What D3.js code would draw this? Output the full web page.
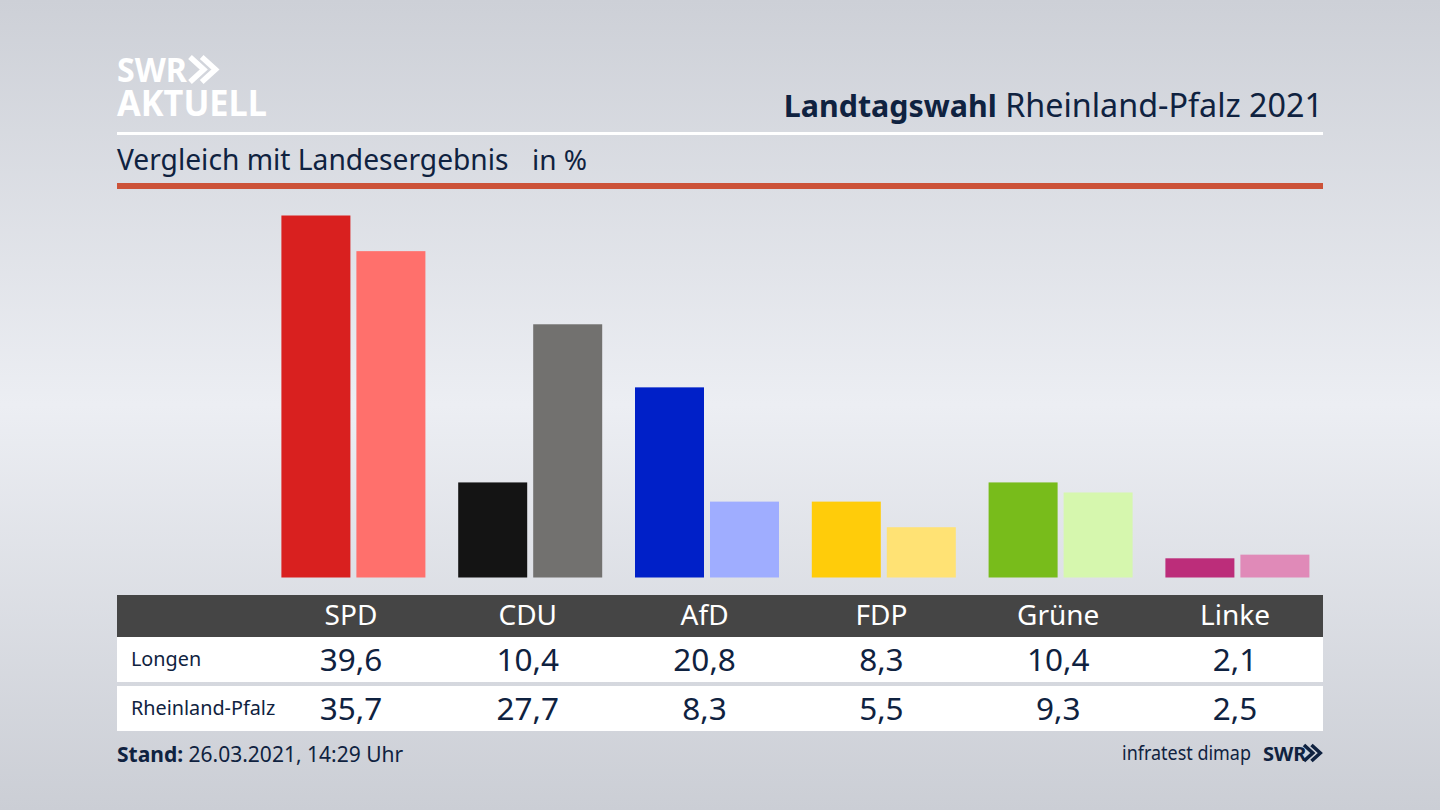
<!DOCTYPE html>
<html>
<head>
<meta charset="utf-8">
<script src="https://cdn.jsdelivr.net/npm/d3@7"></script>
<style>
  html, body { margin: 0; padding: 0; }
  svg { display: block; }
  text { font-family: "Noto Sans", sans-serif; fill: #0f2240; }
</style>
</head>
<body>
<script>
const parties = ['SPD', 'CDU', 'AfD', 'FDP', 'Grüne', 'Linke'];
const rowNames = ['Longen', 'Rheinland-Pfalz'];
const longen = [39.6, 10.4, 20.8, 8.3, 10.4, 2.1];
const rlp = [35.7, 27.7, 8.3, 5.5, 9.3, 2.5];
const longenColors = ['#d9201f', '#141414', '#0020c8', '#ffcc0a', '#78bc1b', '#bc2d7a'];
const rlpColors = ['#ff706c', '#72716f', '#9fadff', '#ffe274', '#d6f7ae', '#e08ab8'];

const width = 1440;
const height = 810;
const left = 117;
const right = 1323;
const baseline = 577.5;
const ink = '#0f2240';

const svg = d3.select('body').append('svg')
  .attr('width', width)
  .attr('height', height);

// background
const grad = svg.append('defs').append('linearGradient')
  .attr('id', 'bg')
  .attr('x1', 0).attr('y1', 0).attr('x2', 0).attr('y2', 1);
grad.append('stop').attr('offset', '0%').attr('stop-color', '#cdd0d7');
grad.append('stop').attr('offset', '50%').attr('stop-color', '#eceef3');
grad.append('stop').attr('offset', '100%').attr('stop-color', '#cbced5');
svg.append('rect').attr('width', width).attr('height', height).attr('fill', 'url(#bg)');

const xScale = d3.scalePoint().domain(parties).range([351, 1235]);
const inner = d3.scaleBand().domain([0, 1]).range([-69.6, 74.4]).paddingInner(0.08);
const yScale = d3.scaleLinear().domain([0, 39.6]).range([baseline, 215.5]);

// header, logo as one text so both lines stay together
const logo = svg.append('text').attr('font-weight', 700).style('fill', '#fff');
logo.append('tspan').text('SWR').attr('x', 117).attr('y', 82)
  .attr('font-size', 34)
  .attr('textLength', 70).attr('lengthAdjust', 'spacingAndGlyphs');
logo.append('tspan').text('AKTUELL').attr('x', 117).attr('y', 116)
  .attr('font-size', 36)
  .attr('textLength', 150).attr('lengthAdjust', 'spacingAndGlyphs');

function chevrons(x, y, h, color) {
  const w = h * 0.55;
  [0, w * 0.85].forEach((dx) => {
    svg.append('path')
      .attr('d', `M${x + dx},${y} L${x + dx + w},${y + h / 2} L${x + dx},${y + h}`)
      .attr('fill', 'none')
      .attr('stroke', color)
      .attr('stroke-width', h * 0.22);
  });
}
chevrons(190, 57, 25, '#fff');

const title = svg.append('text').attr('x', right).attr('y', 117)
  .attr('text-anchor', 'end');
title.append('tspan').text('Landtagswahl').attr('font-weight', 700).attr('font-size', 30.4);
title.append('tspan').text(' Rheinland-Pfalz 2021').attr('font-size', 32.3);

svg.append('rect').attr('x', left).attr('y', 132).attr('width', right - left).attr('height', 3).attr('fill', '#fff');
svg.append('text').text('Vergleich mit Landesergebnis').attr('x', left).attr('y', 170).attr('font-size', 28.2);
svg.append('text').text('in %').attr('x', 532).attr('y', 170).attr('font-size', 28);
svg.append('rect').attr('x', left).attr('y', 183).attr('width', right - left).attr('height', 6).attr('fill', '#cc5238');

// bars
[longen, rlp].forEach((values, s) => {
  const colors = s === 0 ? longenColors : rlpColors;
  svg.append('g').selectAll('rect')
    .data(values)
    .enter()
    .append('rect')
    .attr('x', (d, i) => xScale(parties[i]) + inner(s))
    .attr('y', d => yScale(d))
    .attr('width', inner.bandwidth())
    .attr('height', d => baseline - yScale(d))
    .attr('fill', (d, i) => colors[i]);
});

// table
svg.append('rect').attr('x', left).attr('y', 595).attr('width', right - left).attr('height', 42).attr('fill', '#454545');
svg.append('rect').attr('x', left).attr('y', 637).attr('width', right - left).attr('height', 45).attr('fill', '#fff');
svg.append('rect').attr('x', left).attr('y', 686).attr('width', right - left).attr('height', 45).attr('fill', '#fff');

svg.append('g').selectAll('text')
  .data(parties)
  .enter()
  .append('text')
  .text(d => d)
  .attr('x', d => xScale(d))
  .attr('y', 625)
  .attr('text-anchor', 'middle')
  .attr('font-size', 28)
  .style('fill', '#fff');

const fmt = v => v.toFixed(1).replace('.', ',');
[longen, rlp].forEach((values, s) => {
  const y = s === 0 ? 671 : 720;
  svg.append('text').text(rowNames[s]).attr('x', 131).attr('y', s === 0 ? 666 : 715).attr('font-size', 19.8);
  svg.append('g').selectAll('text')
    .data(values)
    .enter()
    .append('text')
    .text(d => fmt(d))
    .attr('x', (d, i) => xScale(parties[i]))
    .attr('y', y)
    .attr('text-anchor', 'middle')
    .attr('font-size', 31.5);
});

// footer
const stand = svg.append('text').attr('x', left).attr('y', 762).attr('font-size', 21);
stand.append('tspan').text('Stand:').attr('font-weight', 700);
stand.append('tspan').text(' 26.03.2021, 14:29 Uhr');

svg.append('text').text('infratest dimap').attr('x', 1122).attr('y', 760)
  .attr('font-size', 20)
  .attr('textLength', 129).attr('lengthAdjust', 'spacingAndGlyphs');
svg.append('text').text('SWR').attr('x', 1263).attr('y', 761)
  .attr('font-size', 20).attr('font-weight', 700);
chevrons(1304, 745, 16, ink);
</script>
</body>
</html>
